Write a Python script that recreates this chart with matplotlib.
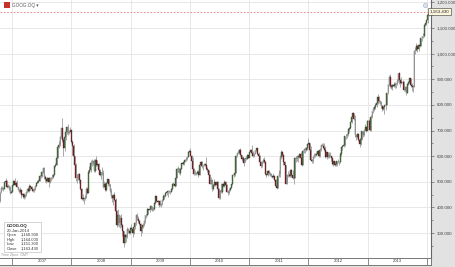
import numpy as np
import pandas as pd
import matplotlib
matplotlib.use("Agg")
import matplotlib.pyplot as plt
import matplotlib.dates as mdates
from matplotlib.ticker import FuncFormatter, MultipleLocator
from matplotlib.patches import Rectangle

plt.rcParams["font.family"] = ["Liberation Sans", "DejaVu Sans"]

# weekly bars, GOOG, mid Oct 2006 .. 20 Jan 2014 (week starts on Monday)
ric = "GOOG.OQ"
first_week = "2006-10-16"
first_open = 427.0

week_close = [
    459, 475, 471, 473, 498, 505, 480, 484, 480, 455, 460,
    # 2007
    487, 505, 489, 495, 481, 470, 461, 470, 449, 452, 440, 448, 461,
    471, 466, 482, 479, 471, 466, 470, 483, 497, 500, 505, 524, 522,
    539, 552, 520, 511, 503, 515, 500, 513, 515, 519, 528, 560, 567,
    594, 637, 644, 674, 711, 663, 633, 676, 693, 714, 689, 696, 702, 657,
    # 2008
    638, 600, 566, 515, 516, 529, 507, 471, 433, 437, 433, 438, 471,
    457, 539, 545, 573, 573, 580, 544, 585, 567, 571, 546, 528, 537,
    533, 481, 491, 467, 495, 510, 490, 463, 444, 437, 450, 431, 386,
    332, 372, 339, 359, 331, 310, 262, 292, 283, 315, 310, 300, 321,
    # 2009
    315, 299, 324, 338, 371, 357, 346, 337, 308, 324, 330, 347, 369,
    372, 393, 389, 393, 407, 390, 393, 417, 444, 424, 420, 425, 408,
    415, 430, 446, 443, 457, 460, 465, 464, 461, 472, 491, 492, 484,
    516, 549, 553, 536, 551, 572, 569, 579, 586, 590, 596, 618, 620,
    # 2010
    602, 580, 550, 529, 531, 534, 540, 526, 564, 579, 560, 562, 568,
    566, 550, 545, 525, 493, 507, 472, 486, 498, 488, 500, 472, 436,
    467, 459, 490, 484, 500, 486, 462, 458, 470, 476, 490, 527, 525,
    536, 601, 612, 613, 626, 603, 590, 591, 574, 592, 590, 605, 593,
    # 2011
    616, 624, 611, 600, 610, 624, 630, 610, 600, 576, 561, 579, 587,
    578, 530, 525, 544, 535, 529, 524, 520, 523, 509, 485, 475, 521,
    532, 597, 618, 603, 579, 564, 490, 526, 525, 524, 546, 525, 515,
    515, 591, 590, 600, 596, 608, 594, 564, 620, 627, 625, 633, 646,
    # 2012
    650, 625, 585, 580, 596, 605, 605, 609, 621, 600, 625, 642, 641,
    632, 624, 596, 615, 596, 605, 600, 591, 570, 580, 564, 571, 580,
    576, 576, 610, 634, 641, 642, 677, 678, 685, 706, 709, 733, 754,
    767, 744, 681, 675, 687, 663, 647, 667, 698, 684, 701, 715, 700, 737,
    # 2013
    739, 704, 754, 776, 785, 792, 799, 806, 831, 814, 810, 794,
    783, 790, 799, 801, 845, 880, 909, 873, 871, 879, 875, 880, 880,
    894, 923, 896, 885, 891, 890, 857, 870, 846, 880, 889, 903, 876, 872,
    871, 1011, 1015, 1028, 1017, 1034, 1031, 1059, 1069, 1069, 1112, 1118, 1131,
    # 2014
    1150, 1156, 1163.43,
]

week_high = [
    461, 484, 482, 478, 500, 513, 507, 493, 486, 482, 468,
    # 2007
    489, 506, 513, 502, 506, 484, 474, 478, 473, 458, 456, 454, 466,
    475, 478, 490, 486, 482, 474, 475, 486, 500, 507, 510, 528, 530,
    541, 558, 557, 527, 516, 519, 518, 517, 520, 530, 531, 563, 572,
    597, 640, 658, 677, 714, 747, 669, 680, 696, 716, 724, 704, 714, 700,
    # 2008
    665, 646, 600, 573, 530, 535, 535, 512, 474, 453, 440, 450, 478,
    479, 545, 560, 586, 589, 586, 588, 589, 602, 585, 573, 550, 540,
    559, 545, 502, 501, 500, 512, 512, 492, 475, 453, 452, 459, 438,
    390, 395, 375, 370, 375, 335, 310, 295, 295, 325, 321, 312, 323,
    # 2009
    335, 318, 325, 345, 374, 380, 365, 352, 340, 327, 340, 350, 372,
    376, 398, 393, 399, 410, 405, 401, 420, 447, 446, 430, 427, 429,
    418, 433, 452, 450, 460, 463, 467, 469, 466, 476, 494, 500, 499,
    520, 552, 560, 555, 553, 575, 577, 583, 590, 595, 600, 620, 626,
    # 2010
    630, 605, 595, 555, 545, 540, 545, 545, 566, 581, 582, 564, 573,
    575, 597, 556, 548, 530, 518, 512, 490, 510, 501, 505, 505, 474,
    469, 496, 493, 495, 507, 502, 490, 468, 475, 481, 492, 528, 535,
    541, 604, 617, 624, 629, 630, 605, 600, 593, 595, 600, 607, 605,
    # 2011
    619, 628, 642, 620, 614, 625, 632, 630, 615, 605, 580, 582, 594,
    595, 580, 532, 547, 548, 540, 535, 526, 534, 526, 511, 490, 524,
    548, 603, 625, 622, 609, 582, 567, 530, 542, 535, 548, 550, 547,
    526, 595, 599, 603, 600, 614, 617, 596, 625, 632, 635, 637, 647,
    # 2012
    670, 652, 640, 590, 600, 612, 612, 616, 625, 623, 630, 648, 653,
    653, 653, 640, 618, 618, 615, 616, 602, 596, 582, 582, 580, 582,
    588, 580, 616, 636, 645, 647, 680, 685, 690, 710, 712, 735, 758,
    774, 770, 762, 685, 692, 690, 670, 670, 700, 700, 705, 724, 718, 740,
    # 2013
    745, 740, 760, 777, 790, 795, 807, 810, 841, 836, 820, 815,
    800, 795, 801, 805, 847, 882, 915, 920, 880, 882, 889, 890, 885,
    900, 925, 928, 900, 908, 899, 895, 875, 872, 886, 893, 906, 904, 885,
    878, 1013, 1025, 1040, 1033, 1038, 1048, 1062, 1070, 1080, 1115, 1120, 1132,
    # 2014
    1151, 1175, 1164,
]

week_low = [
    420, 457, 467, 466, 472, 495, 476, 475, 470, 452, 455,
    # 2007
    459, 484, 486, 483, 479, 467, 455, 458, 438, 437, 435, 437, 445,
    458, 462, 462, 470, 465, 462, 460, 468, 481, 494, 494, 502, 516,
    520, 536, 512, 500, 496, 498, 480, 495, 505, 512, 515, 526, 556,
    565, 592, 630, 640, 672, 655, 600, 622, 665, 688, 684, 685, 694, 652,
    # 2008
    605, 585, 520, 505, 495, 508, 497, 468, 428, 425, 413, 430, 436,
    452, 455, 536, 540, 560, 565, 540, 540, 562, 560, 543, 523, 510,
    525, 475, 480, 465, 465, 485, 485, 460, 437, 420, 410, 425, 380,
    325, 328, 325, 320, 325, 290, 247, 260, 265, 282, 300, 298, 297,
    # 2009
    310, 284, 297, 318, 330, 353, 340, 330, 290, 300, 320, 327, 338,
    360, 365, 375, 382, 390, 385, 385, 390, 415, 420, 411, 403, 406,
    400, 410, 426, 434, 440, 450, 441, 455, 452, 460, 470, 485, 478,
    484, 514, 538, 530, 527, 549, 564, 566, 577, 581, 585, 595, 617,
    # 2010
    600, 575, 548, 525, 525, 527, 530, 520, 525, 560, 555, 545, 560,
    560, 548, 537, 520, 490, 492, 465, 470, 482, 482, 485, 470, 433,
    434, 457, 455, 478, 480, 481, 460, 450, 451, 466, 474, 488, 520,
    522, 535, 595, 609, 610, 600, 580, 580, 562, 578, 586, 589, 592,
    # 2011
    596, 612, 600, 595, 595, 608, 618, 605, 590, 570, 555, 558, 575,
    575, 525, 518, 522, 528, 524, 518, 515, 515, 505, 478, 473, 474,
    520, 520, 590, 595, 567, 518, 490, 491, 518, 517, 520, 520, 512,
    490, 513, 578, 580, 578, 592, 590, 561, 565, 612, 613, 619, 626,
    # 2012
    645, 620, 580, 575, 575, 593, 598, 600, 605, 595, 598, 622, 638,
    630, 620, 592, 590, 594, 592, 596, 581, 565, 562, 562, 560, 560,
    572, 564, 575, 600, 625, 636, 640, 668, 670, 680, 695, 705, 730,
    750, 740, 673, 665, 672, 660, 636, 645, 662, 676, 680, 697, 695, 710,
    # 2013
    730, 700, 700, 748, 770, 778, 785, 790, 804, 808, 803, 789,
    775, 780, 765, 781, 800, 843, 875, 866, 862, 860, 870, 865, 866,
    878, 890, 880, 870, 880, 877, 855, 853, 840, 846, 876, 885, 870, 855,
    851, 868, 1000, 1012, 1007, 1010, 1025, 1030, 1050, 1060, 1065, 1108, 1110,
    # 2014
    1120, 1145, 1151.3,
]

price_ticks = [300, 400, 500, 600, 700, 800, 900, 1000, 1100, 1200]
year_labels = ["2007", "2008", "2009", "2010", "2011", "2012", "2013"]
legend_date = "20-Jan-2014"
legend_fields = ["Open", "High", "Low", "Close"]
legend_values = [1160.930, 1164.000, 1151.300, 1163.430]

W, H = 455, 267


def fpx(x, y):
    # figure pixel (from top-left) -> figure fraction
    return x / W, 1 - y / H


fig = plt.figure(figsize=(W / 100, H / 100), dpi=100, facecolor="#e2e2e2")
ax = fig.add_axes([0, 9 / H, 431 / W, 258 / H], facecolor="white")

dates = pd.date_range(first_week, periods=len(week_close), freq="W-MON")
xd = mdates.date2num(dates)
c = np.array(week_close, dtype=float)
o = np.r_[first_open, c[:-1]]
up = c >= o

ax.vlines(xd, week_low, week_high, color="#a9a9a9", lw=0.7, zorder=2)
ax.bar(xd, c - o, bottom=o, width=4.5,
       color=np.where(up, "#4e8a3a", "#a3141a"),
       edgecolor="#2b2b2b", linewidth=0.25, zorder=3)

x0 = mdates.date2num(pd.Timestamp("2006-10-17"))
x1 = mdates.date2num(pd.Timestamp("2014-01-27"))
ax.set_xlim(x0, x1)
ax.set_ylim(203, 1209)

year_starts = [mdates.date2num(pd.Timestamp(f"{y}-01-01")) for y in range(2007, 2015)]
ax.set_xticks(year_starts)
ax.tick_params(axis="x", length=0, labelbottom=False)

ax.yaxis.tick_right()
ax.set_yticks(price_ticks)
ax.yaxis.set_major_formatter(FuncFormatter(lambda v, p: f"{v:,.3f}"))
ax.yaxis.set_minor_locator(MultipleLocator(50))
ax.tick_params(axis="y", which="major", length=2.5, width=0.5, color="#666",
               labelsize=3.2, pad=1.5, labelcolor="#444")
ax.tick_params(axis="y", which="minor", length=1.5, width=0.5, color="#666")
ax.grid(True, color="#e4e4e4", lw=0.6, zorder=0)
ax.set_axisbelow(True)
for side in ["top", "left", "bottom"]:
    ax.spines[side].set_visible(False)
ax.spines["right"].set_color("#666")
ax.spines["right"].set_linewidth(0.8)

# last price line + tag
ax.axhline(c[-1], color="#e87878", lw=0.6, ls=(0, (2, 2)), zorder=4)
fig.text(*fpx(439.5, 11.5), f"{c[-1]:,.3f}", fontsize=3.2, color="#222",
         ha="center", va="center",
         bbox=dict(boxstyle="square,pad=0.3", fc="#fbf6dc", ec="#333", lw=0.4))
ax.plot([425 / 431], [1 - 5 / 258], transform=ax.transAxes, marker="o", ms=3,
        mfc="#dfe5ef", mec="#9aa8c0", mew=0.4, clip_on=False, zorder=5)

# header
fig.patches.append(Rectangle(fpx(4, 8), 6 / W, 6 / H, transform=fig.transFigure,
                             fc="#c8322c", ec="none", zorder=5))
fig.text(*fpx(12, 5), f"{ric} \u25be", fontsize=3.3, color="#555",
         ha="left", va="center", zorder=5)

# date band
band = fig.add_axes([0, 2 / H, 431 / W, 7 / H], facecolor="white")
band.set_xlim(x0, x1)
band.set_ylim(0, 1)
band.set_xticks([])
band.set_yticks([])
for side in ["top", "bottom", "right"]:
    band.spines[side].set_color("#777")
    band.spines[side].set_linewidth(0.7)
band.spines["left"].set_visible(False)
band.vlines(year_starts, 0, 1, color="#777", lw=0.6)
for i, lab in enumerate(year_labels):
    band.text((year_starts[i] + year_starts[i + 1]) / 2, 0.5, lab, fontsize=3,
              color="#333", ha="center", va="center")

# data box
fig.patches.append(Rectangle(fpx(4, 252), 37 / W, 30 / H, transform=fig.transFigure,
                             fc="white", ec="#c4c4c4", lw=0.5, zorder=5))
fig.text(*fpx(7, 226), ric, fontsize=3.1, fontweight="bold", color="#222",
         va="center", zorder=6)
fig.text(*fpx(7, 230.5), legend_date, fontsize=3, color="#333", va="center", zorder=6)
for i, (name, val) in enumerate(zip(legend_fields, legend_values)):
    yy = 235 + i * 4.5
    fig.text(*fpx(7, yy), name, fontsize=3, color="#333", va="center", zorder=6)
    fig.text(*fpx(21, yy), f"{val:,.3f}", fontsize=3, color="#333", va="center", zorder=6)
fig.text(*fpx(1, 255.5), "Time Zone: GMT", fontsize=2.6, color="#999", va="center", zorder=6)

fig.savefig("out.png", dpi=100, facecolor=fig.get_facecolor())
